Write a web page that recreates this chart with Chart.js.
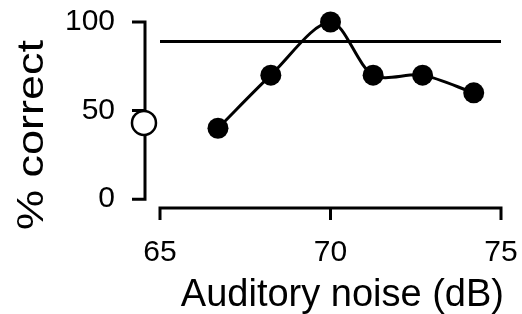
<!DOCTYPE html>
<html>
<head>
<meta charset="utf-8">
<script src="https://cdn.jsdelivr.net/npm/chart.js@4"></script>
<style>
  html, body { margin: 0; padding: 0; background: #fff; }
  canvas { display: block; }
</style>
</head>
<body>
<canvas id="chartDisplay" width="522" height="314"></canvas>
<script>
// data
const noiseLevels = [66.7, 68.25, 70, 71.25, 72.7, 74.2];   // dB
const percentCorrect = [40, 70, 100, 70, 70, 60];
const baselineNoise = [64.53];     // open circle (no noise)
const baselineCorrect = [43];
const refLineX = [65, 75];
const refLineY = [89, 89];
const xTicks = [65, 70, 75];
const yTicks = [0, 50, 100];
const xTitle = 'Auditory noise (dB)';
const yTitle = '% correct';

const fontFamily = '"Liberation Sans", Arial, Helvetica, sans-serif';

// no extra room for the edge tick labels, the layout is set by padding
function noLabelPadding(s) {
  s.paddingTop = 0;
  s.paddingBottom = 0;
  s.paddingLeft = 0;
  s.paddingRight = 0;
}

// custom axes: short lines only over the tick range, like the figure
const axesPlugin = {
  id: 'axesPlugin',
  beforeDatasetsDraw(chart) {
    const ctx = chart.ctx;
    const xs = chart.scales.x, ys = chart.scales.y;
    const left = chart.chartArea.left, bottom = chart.chartArea.bottom;
    ctx.save();
    ctx.strokeStyle = '#000';
    ctx.lineWidth = 3;
    ctx.lineCap = 'butt';
    // y axis
    ctx.beginPath();
    ctx.moveTo(left, ys.getPixelForValue(yTicks[yTicks.length - 1]) - 1.5);
    ctx.lineTo(left, ys.getPixelForValue(yTicks[0]) + 1.5);
    yTicks.forEach(v => {
      const py = ys.getPixelForValue(v);
      ctx.moveTo(left + 1.5, py);
      ctx.lineTo(left - 13, py);
    });
    ctx.stroke();
    // x axis
    ctx.beginPath();
    ctx.moveTo(xs.getPixelForValue(xTicks[0]) - 1.5, bottom);
    ctx.lineTo(xs.getPixelForValue(xTicks[xTicks.length - 1]) + 1.5, bottom);
    xTicks.forEach(v => {
      const px = xs.getPixelForValue(v);
      ctx.moveTo(px, bottom - 1.5);
      ctx.lineTo(px, bottom + 12);
    });
    ctx.stroke();
    ctx.restore();
  },
  afterDraw(chart) {
    const ctx = chart.ctx;
    ctx.save();
    ctx.fillStyle = '#000';
    // x title, right aligned to the end of the axis
    ctx.font = '38px ' + fontFamily;
    ctx.textAlign = 'right';
    ctx.textBaseline = 'alphabetic';
    ctx.fillText(xTitle, chart.chartArea.right + 3, 306);
    // y title (the figure's lettering is drawn a little elongated)
    ctx.font = '36px ' + fontFamily;
    ctx.translate(43, 135);
    ctx.rotate(-Math.PI / 2);
    ctx.scale(1.25, 1);
    ctx.textAlign = 'center';
    ctx.fillText(yTitle, 0, 0);
    ctx.restore();
  }
};

let chart = new Chart(document.getElementById('chartDisplay'), {
  type: 'scatter',
  data: {
    datasets: [
      {
        data: noiseLevels.map((x, i) => ({ x: x, y: percentCorrect[i] })),
        showLine: true,
        tension: 0.3,
        borderColor: '#000',
        borderWidth: 3,
        pointRadius: 10.5,
        pointBackgroundColor: '#000',
        pointBorderColor: '#000',
        pointBorderWidth: 0
      },
      {
        data: baselineNoise.map((x, i) => ({ x: x, y: baselineCorrect[i] })),
        pointRadius: 12,
        pointBackgroundColor: '#fff',
        pointBorderColor: '#000',
        pointBorderWidth: 2.5
      },
      {
        data: refLineX.map((x, i) => ({ x: x, y: refLineY[i] })),
        showLine: true,
        borderColor: '#000',
        borderWidth: 3,
        pointRadius: 0
      }
    ]
  },
  options: {
    responsive: false,
    animation: false,
    clip: false,
    events: [],
    layout: { padding: { top: 22, right: 21, left: 0, bottom: 0 } },
    plugins: {
      legend: { display: false },
      tooltip: { enabled: false }
    },
    scales: {
      x: {
        type: 'linear',
        min: 64.56,
        max: 75,
        afterBuildTicks: s => { s.ticks = xTicks.map(v => ({ value: v })); },
        afterFit: s => { s.height = 106; noLabelPadding(s); },
        grid: { display: false, drawTicks: false },
        border: { display: false },
        ticks: {
          color: '#000',
          padding: 27,
          maxRotation: 0,
          font: { family: fontFamily, size: 30 }
        }
      },
      y: {
        min: -5,
        max: 100,
        afterBuildTicks: s => { s.ticks = yTicks.map(v => ({ value: v })); },
        afterFit: s => { s.width = 145; noLabelPadding(s); },
        grid: { display: false, drawTicks: false },
        border: { display: false },
        ticks: {
          color: '#000',
          padding: 30,
          font: { family: fontFamily, size: 30 }
        }
      }
    }
  },
  plugins: [axesPlugin]
});
</script>
</body>
</html>
